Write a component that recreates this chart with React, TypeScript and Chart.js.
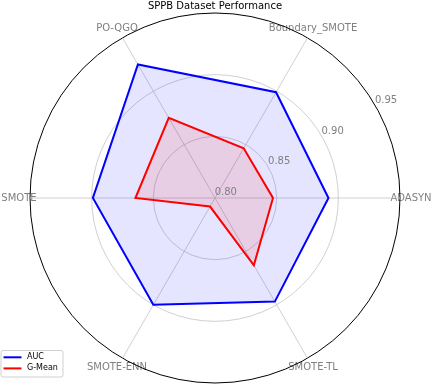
import React, { useEffect, useRef } from "react";
import { Chart, registerables } from "chart.js";

Chart.register(...registerables);

// Categories in clockwise order starting at the right (3 o'clock)
const categories = ["ADASYN", "SMOTE-TL", "SMOTE-ENN", "SMOTE", "PO-QGO", "Boundary_SMOTE"];
const aucValues = [0.892, 0.897, 0.9, 0.899, 0.925, 0.899];
const gmeanValues = [0.847, 0.863, 0.808, 0.8645, 0.875, 0.8465];
const tickValues = [0.8, 0.85, 0.9, 0.95];
const tickLabels = ["0.80", "0.85", "0.90", "0.95"];
const seriesNames = ["AUC", "G-Mean"];
const titleText = "SPPB Dataset Performance";

const FONT = "'DejaVu Sans', sans-serif";

const textPlugin = {
  id: "polarText",
  beforeDraw(chart: any) {
    const scale = chart.scales.r;
    const ctx = chart.ctx;
    ctx.save();
    ctx.font = `10px ${FONT}`;
    ctx.fillStyle = "#808080";
    ctx.textAlign = "center";
    ctx.textBaseline = "middle";
    const labels = chart.data.labels as string[];
    labels.forEach((lab, i) => {
      const p = scale.getPointPosition(i, scale.drawingArea + 11);
      ctx.fillText(lab, p.x, p.y);
    });
    ctx.restore();
  },
  afterDatasetsDraw(chart: any) {
    const scale = chart.scales.r;
    const ctx = chart.ctx;
    ctx.save();
    ctx.font = `10px ${FONT}`;
    ctx.fillStyle = "#808080";
    ctx.textAlign = "center";
    ctx.textBaseline = "middle";
    const ang = (30 * Math.PI) / 180;
    tickValues.forEach((v, i) => {
      const r = scale.getDistanceFromCenterForValue(v);
      const x = scale.xCenter + r * Math.cos(ang) + 10.8;
      const y = scale.yCenter - r * Math.sin(ang) - 5.3;
      ctx.fillText(tickLabels[i], x, y);
    });
    ctx.restore();
  },
  afterDraw(chart: any) {
    const ctx = chart.ctx;
    ctx.save();
    // legend frame
    const bx = 1, by = 350.5, bw = 62, bh = 26.5, rad = 2;
    ctx.beginPath();
    ctx.moveTo(bx + rad, by);
    ctx.lineTo(bx + bw - rad, by);
    ctx.quadraticCurveTo(bx + bw, by, bx + bw, by + rad);
    ctx.lineTo(bx + bw, by + bh - rad);
    ctx.quadraticCurveTo(bx + bw, by + bh, bx + bw - rad, by + bh);
    ctx.lineTo(bx + rad, by + bh);
    ctx.quadraticCurveTo(bx, by + bh, bx, by + bh - rad);
    ctx.lineTo(bx, by + rad);
    ctx.quadraticCurveTo(bx, by, bx + rad, by);
    ctx.closePath();
    ctx.fillStyle = "rgba(255,255,255,0.8)";
    ctx.fill();
    ctx.strokeStyle = "#d0d0d0";
    ctx.lineWidth = 1;
    ctx.stroke();
    ctx.font = `8px ${FONT}`;
    ctx.textAlign = "left";
    ctx.textBaseline = "middle";
    const ds = chart.data.datasets;
    const rows = [357.3, 368.4];
    ds.forEach((d: any, i: number) => {
      const y = rows[i];
      ctx.strokeStyle = d.borderColor;
      ctx.lineWidth = 2;
      ctx.beginPath();
      ctx.moveTo(3.5, y);
      ctx.lineTo(21.5, y);
      ctx.stroke();
      ctx.fillStyle = "#000000";
      ctx.fillText(d.label, 27, y);
    });
    ctx.restore();
  },
};

export default function App() {
  const ref = useRef<HTMLCanvasElement | null>(null);
  useEffect(() => {
    if (!ref.current) return;
    const chart = new Chart(ref.current, {
      type: "radar",
      data: {
        labels: categories,
        datasets: [
          {
            label: seriesNames[0],
            data: aucValues,
            borderColor: "#0000ff",
            backgroundColor: "rgba(0,0,255,0.1)",
            borderWidth: 2,
            pointRadius: 0,
            pointHoverRadius: 0,
            fill: true,
            borderJoinStyle: "miter",
            order: 2,
          },
          {
            label: seriesNames[1],
            data: gmeanValues,
            borderColor: "#ff0000",
            backgroundColor: "rgba(255,0,0,0.1)",
            borderWidth: 2,
            pointRadius: 0,
            pointHoverRadius: 0,
            fill: true,
            borderJoinStyle: "miter",
            order: 1,
          },
        ],
      },
      options: {
        responsive: false,
        animation: false,
        devicePixelRatio: 1,
        layout: { padding: { left: 30, right: 32, top: 0, bottom: 1 } },
        elements: { line: { tension: 0 } },
        plugins: {
          legend: { display: false },
          tooltip: { enabled: false },
          title: {
            display: true,
            text: titleText,
            color: "#000000",
            font: { family: FONT, size: 10, weight: "normal" },
            padding: { top: 0, bottom: 1 },
          },
        },
        scales: {
          r: {
            min: 0.8,
            max: 0.95,
            startAngle: 90,
            ticks: { display: false, stepSize: 0.05 },
            pointLabels: { display: false },
            grid: {
              circular: true,
              color: (c: any) => (c.index === tickValues.length - 1 ? "#000000" : "#c4c4c4"),
              lineWidth: (c: any) => (c.index === tickValues.length - 1 ? 1 : 0.8),
            },
            angleLines: { color: "#c4c4c4", lineWidth: 0.8 },
          },
        },
      },
      plugins: [textPlugin],
    } as any);
    return () => chart.destroy();
  }, []);
  return (
    <div style={{ position: "absolute", left: 0, top: 0, width: 432, height: 384 }}>
      <canvas ref={ref} width={432} height={384} style={{ display: "block" }} />
    </div>
  );
}
